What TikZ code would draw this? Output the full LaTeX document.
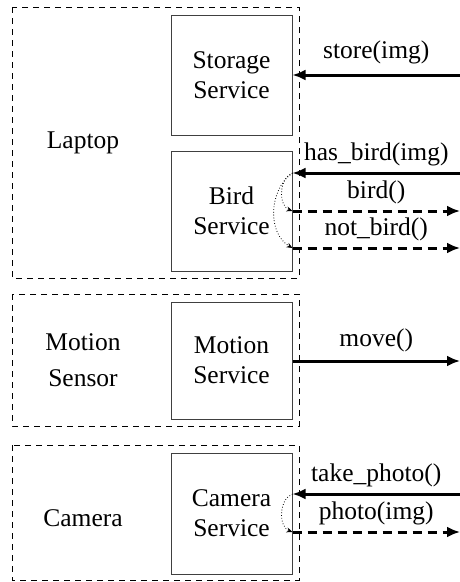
\documentclass[tikz,border=0pt]{standalone}
\usepackage{fontspec}
\setmainfont{Liberation Serif}
\usetikzlibrary{arrows.meta}
\begin{document}
\begin{tikzpicture}[x=1pt,y=-1pt,
  host/.style={draw, dashed, dash pattern=on 6pt off 5pt, line width=0.8pt},
  svc/.style={draw=black!75, line width=1pt, minimum width=121pt, inner sep=0pt, align=center, font=\fontsize{25.5}{30}\selectfont},
  lbl/.style={align=center, font=\fontsize{25.5}{36}\selectfont},
  msg/.style={font=\fontsize{25.5}{30}\selectfont, inner sep=0pt},
  call/.style={line width=3pt, -{Latex[length=13pt,width=11pt]}},
  ret/.style={line width=3pt, dash pattern=on 9pt off 6pt, -{Latex[length=13pt,width=11pt]}},
  inner/.style={dotted, line width=0.8pt, -{Stealth[length=6pt,width=5pt]}}]
\useasboundingbox (0,0) rectangle (460,582);
% hosts
\draw[host] (12,7) rectangle (299,278);
\draw[host] (12,294) rectangle (299,426);
\draw[host] (12,445) rectangle (299,580);
\node[lbl] (laptop) at (83,143) {Laptop};
\node[lbl] (motion) at (83,360) {Motion\\Sensor};
\node[lbl] (camera) at (83,518) {Camera};
% services
\node[svc, minimum height=120pt] (storage) at (231.5,75) {Storage\\Service};
\node[svc, minimum height=120pt] (bird) at (231.5,211) {Bird\\Service};
\node[svc, minimum height=117pt] (msvc) at (231.5,360.5) {Motion\\Service};
\node[svc, minimum height=121pt] (csvc) at (231.5,513.5) {Camera\\Service};
% endpoints
\coordinate (e1) at (460,75);
\coordinate (e2) at (460,173);
\coordinate (e3) at (460,211);
\coordinate (e4) at (460,248);
\coordinate (e5) at (460,361);
\coordinate (e6) at (460,494);
\coordinate (e7) at (460,532);
\coordinate (b1) at (bird.east |- e2);
\coordinate (b2) at (bird.east |- e3);
\coordinate (b3) at (bird.east |- e4);
\coordinate (c1) at (csvc.east |- e6);
\coordinate (c2) at (csvc.east |- e7);
% arrows
\draw[call] (e1) -- (storage.east |- e1) node[msg, midway, above=10pt] {store(img)};
\draw[call] (e2) -- (b1) node[msg, midway, above=6pt] {has\_bird(img)};
\draw[ret] (b2) -- (e3) node[msg, midway, above=6pt] {bird()};
\draw[ret] (b3) -- (e4) node[msg, midway, above=6pt] {not\_bird()};
\draw[call] (msvc.east |- e5) -- (e5) node[msg, midway, above=8pt] {move()};
\draw[call] (e6) -- (c1) node[msg, midway, above=6pt] {take\_photo()};
\draw[ret] (c2) -- (e7) node[msg, midway, above=6pt] {photo(img)};
% internal
\draw[inner] (b1) to[out=200, in=160] (b2);
\draw[inner] (b1) to[out=215, in=150] (b3);
\draw[inner] (c1) to[out=200, in=160] (c2);
\end{tikzpicture}
\end{document}
